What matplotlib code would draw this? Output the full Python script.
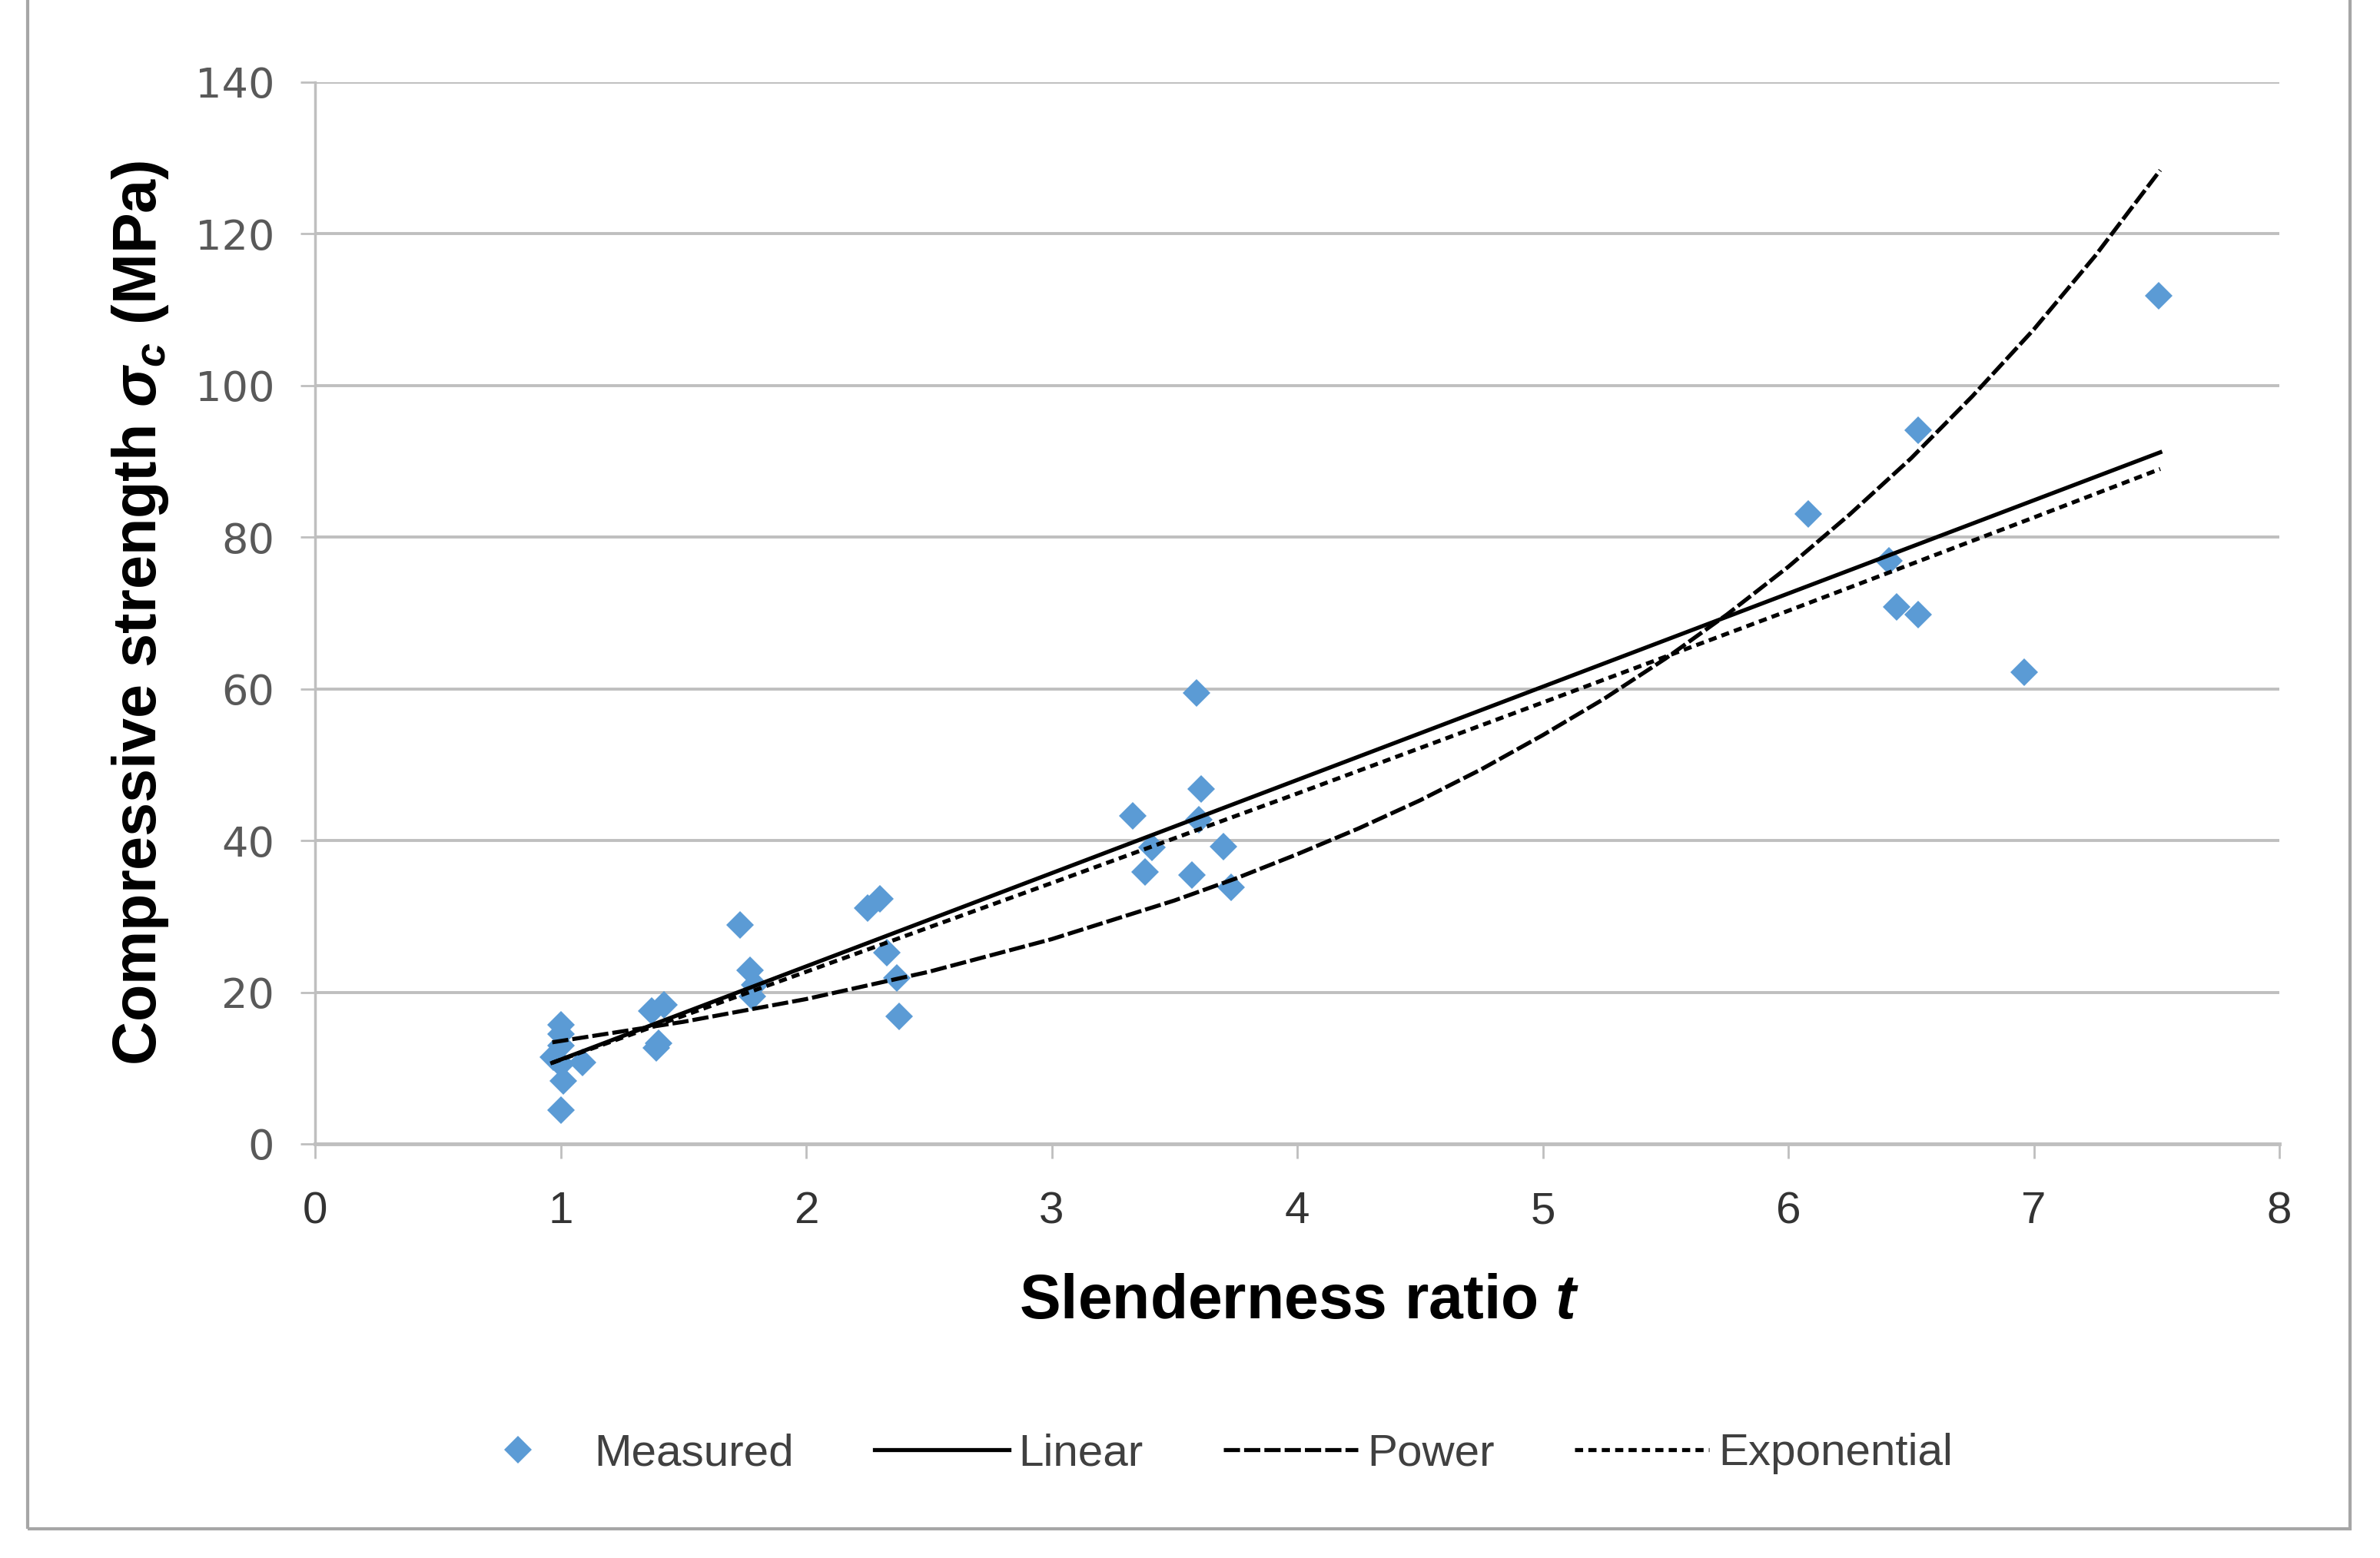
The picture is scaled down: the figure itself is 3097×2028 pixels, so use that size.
import matplotlib
matplotlib.use("Agg")
import matplotlib.pyplot as plt
from matplotlib.patches import Rectangle

# measured points (slenderness ratio t, compressive strength MPa)
measuredT = [0.97, 1.00, 1.00, 1.00, 1.01, 1.09, 1.00, 1.00,
             1.37, 1.42, 1.39, 1.40,
             1.73, 1.77, 1.79, 1.78,
             2.25, 2.30, 2.33, 2.37, 2.38,
             3.33, 3.41, 3.38, 3.59, 3.61, 3.60, 3.57, 3.70, 3.73,
             6.08, 6.41, 6.44, 6.53, 6.53, 6.96, 7.51]
measuredS = [11.4, 15.7, 14.5, 10.5, 8.3, 10.7, 4.5, 13.0,
             17.5, 18.3, 12.7, 13.3,
             28.9, 22.9, 21.0, 19.5,
             31.1, 32.3, 25.2, 21.9, 16.8,
             43.3, 39.1, 35.9, 59.5, 46.8, 42.8, 35.5, 39.2, 33.8,
             83.1, 76.9, 70.8, 94.1, 69.8, 62.2, 111.8]

# trend lines
linearT = [0.966, 7.515]
linearS = [10.7, 91.2]
powerT = [0.966, 1.5, 2.0, 2.5, 3.0, 3.5, 3.75, 4.0, 4.25, 4.5, 4.75, 5.0, 5.25, 5.5,
          5.75, 6.0, 6.25, 6.5, 6.75, 7.0, 7.25, 7.515]
powerS = [13.4, 16.1, 19.1, 22.7, 27.0, 32.1, 35.0, 38.2, 41.6, 45.3, 49.4, 53.9, 58.7, 64.0,
          69.8, 76.1, 83.0, 90.4, 98.6, 107.4, 117.1, 128.4]
expT = [0.966, 2.0, 3.0, 4.0, 5.0, 6.0, 7.0, 7.515]
expS = [10.7, 22.7, 34.4, 46.2, 58.2, 70.3, 82.6, 89.0]

xTicks = [0, 1, 2, 3, 4, 5, 6, 7, 8]
yTicks = [0, 20, 40, 60, 80, 100, 120, 140]

narrow = ["Liberation Sans Narrow", "Liberation Sans", "DejaVu Sans"]
plt.rcParams["mathtext.fontset"] = "custom"
plt.rcParams["mathtext.it"] = "Liberation Sans:italic:bold"
plt.rcParams["mathtext.rm"] = "Liberation Sans:bold"

fig = plt.figure(figsize=(30.97, 20.28), dpi=100)
ax = fig.add_axes([410 / 3097, 1 - 1489 / 2028, 2556 / 3097, 1382 / 2028])

gridColor = "#bfbfbf"
ax.set_xlim(0, 8)
ax.set_ylim(0, 140)
ax.set_yticks(yTicks)
ax.set_xticks(xTicks)
ax.yaxis.grid(True, color=gridColor, linewidth=2.8)
ax.set_axisbelow(True)
for side in ["top", "right"]:
    ax.spines[side].set_visible(False)
ax.spines["left"].set_color(gridColor)
ax.spines["left"].set_linewidth(2.5)
ax.spines["bottom"].set_color(gridColor)
ax.spines["bottom"].set_linewidth(3.5)
ax.tick_params(axis="both", direction="out", length=14, width=2, color=gridColor)
ax.tick_params(axis="y", pad=24, labelsize=39, labelcolor="#595959")
ax.tick_params(axis="x", pad=30, labelsize=42, labelcolor="#333333")
for lab in ax.get_xticklabels():
    lab.set_family(narrow)

ax.plot(measuredT, measuredS, linestyle="none", marker="D", markersize=18.5,
        color="#5b9bd5", markeredgewidth=0, label="Measured", zorder=3)
ax.plot(linearT, linearS, color="black", linewidth=3.8, label="Linear", zorder=4)
ax.plot(powerT, powerS, color="black", linewidth=3.8, dashes=[4, 1], label="Power", zorder=4)
ax.plot(expT, expS, color="black", linewidth=3.8, dashes=[2.0, 1.3], label="Exponential", zorder=4)

ax.set_xlabel(r"Slenderness ratio $t$", fontsize=58, fontweight="bold", family=narrow, va="center")
ax.xaxis.set_label_coords(0.501, -0.149)
ax.set_ylabel(r"Compressive strength $\sigma_c$ (MPa)", fontsize=57, fontweight="bold",
              family=narrow, va="center")
ax.yaxis.set_label_coords(-0.0892, 0.5)

fig.legend(loc="center", bbox_to_anchor=(0.505, 0.067), ncol=4, frameon=False,
           prop={"family": narrow, "size": 42}, labelcolor="#404040",
           handlelength=3.0, handletextpad=0.2, columnspacing=1.8)

# chart area border
fig.add_artist(Rectangle((36 / 3097, 1 - 1990 / 2028), 3022 / 3097, 1990 / 2028 + 0.01,
                         transform=fig.transFigure, fill=False, edgecolor="#a6a6a6", linewidth=3))

plt.savefig("out.png", dpi=100)
